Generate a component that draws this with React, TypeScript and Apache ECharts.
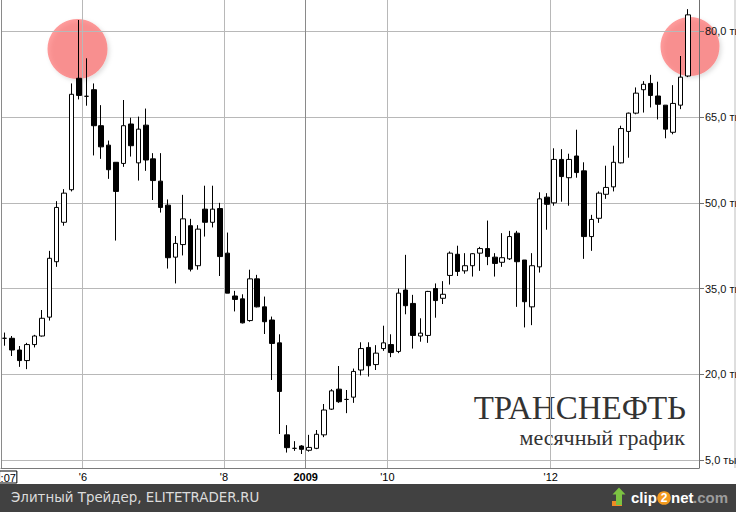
import React, { useEffect, useRef } from 'react';
import * as echarts from 'echarts';

// Monthly OHLC, values in thousands of roubles
const opens = [
  26.3, 26.3, 24.25, 22.4, 25.2, 26.7, 30.0, 39.7, 46.6, 52.3,
  71.8, 68.65, 69.8, 63.5, 60.1, 57.1, 56.9, 63.8, 57.0, 63.6,
  57.7, 53.8, 49.6, 40.5, 42.7, 46.0, 39.0, 48.9, 46.6, 49.0,
  41.2, 33.7, 33.2, 29.4, 36.7, 31.8, 29.5, 25.5, 9.4, 7.04,
  7.45, 6.7, 7.04, 9.4, 13.9, 17.4, 15.6, 16.0, 20.75, 24.7,
  21.7, 24.5, 25.2, 24.0, 34.75, 32.4, 26.7, 26.8, 35.0, 33.3,
  37.3, 41.0, 38.1, 39.0, 41.2, 42.0, 40.5, 39.6, 40.2, 44.7,
  40.0, 31.8, 38.8, 51.0, 50.0, 57.6, 54.4, 58.2, 55.6, 44.1,
  47.3, 51.5, 52.8, 57.0, 62.5, 65.7, 69.8, 70.9, 68.7, 67.1,
  62.35, 67.1, 72.2,
];
const closes = [
  26.3, 24.25, 22.4, 25.2, 26.7, 29.8, 40.3, 49.2, 51.7, 69.0,
  68.8, 68.65, 63.5, 59.8, 55.8, 52.0, 63.5, 60.0, 62.9, 57.5,
  53.9, 49.2, 40.4, 42.9, 47.2, 38.4, 45.4, 46.6, 48.9, 40.6,
  34.2, 33.1, 29.0, 36.7, 31.8, 29.2, 25.4, 17.0, 7.16, 7.04,
  6.87, 7.2, 9.5, 13.75, 17.1, 15.2, 15.6, 20.5, 24.5, 21.5,
  23.7, 25.5, 23.8, 34.2, 32.0, 26.8, 27.2, 34.5, 32.9, 34.0,
  41.2, 38.0, 39.0, 41.1, 42.0, 40.6, 39.4, 40.4, 44.1, 39.7,
  32.7, 39.0, 50.7, 49.75, 57.6, 54.6, 57.6, 55.3, 44.1, 47.1,
  51.7, 52.7, 57.1, 63.0, 65.7, 69.2, 70.75, 68.8, 67.25, 62.9,
  67.4, 72.0, 82.9,
];
const lows = [
  25.0, 23.2, 21.3, 20.9, 24.7, 26.6, 29.4, 38.8, 46.0, 52.0,
  68.1, 67.0, 58.3, 57.7, 54.2, 43.4, 56.3, 58.1, 53.9, 55.6,
  50.5, 48.3, 38.5, 35.9, 40.8, 38.0, 38.3, 44.1, 45.7, 37.2,
  34.2, 31.0, 28.9, 29.2, 31.7, 27.05, 19.0, 9.55, 6.3, 6.6,
  6.05, 6.46, 6.9, 9.0, 13.75, 15.0, 13.2, 15.0, 19.8, 19.6,
  20.75, 24.1, 23.0, 23.7, 30.5, 24.5, 25.7, 25.5, 29.9, 32.3,
  35.7, 37.2, 37.6, 37.1, 38.1, 39.1, 37.1, 38.8, 40.0, 31.8,
  28.2, 28.6, 37.8, 45.3, 49.5, 50.2, 49.5, 54.4, 40.2, 41.6,
  46.5, 50.7, 52.0, 56.9, 57.9, 65.5, 65.8, 66.7, 64.6, 61.3,
  62.0, 66.4, 72.0,
];
const highs = [
  27.3, 26.7, 24.95, 25.5, 26.9, 31.25, 41.6, 50.3, 52.4, 70.9,
  82.0, 75.3, 70.9, 67.1, 60.9, 57.1, 68.0, 64.9, 65.1, 66.5,
  58.7, 58.7, 50.6, 44.2, 51.4, 47.2, 46.1, 53.0, 53.0, 50.0,
  44.8, 34.6, 34.0, 38.3, 37.4, 33.6, 30.1, 27.0, 11.1, 8.3,
  7.6, 9.4, 10.25, 14.8, 17.4, 21.45, 17.25, 21.0, 25.6, 25.6,
  25.1, 28.5, 27.0, 35.0, 40.9, 33.9, 29.8, 34.6, 35.9, 36.3,
  41.5, 42.5, 41.2, 41.2, 42.3, 46.9, 41.2, 44.7, 45.1, 45.1,
  40.0, 41.2, 51.85, 51.7, 59.55, 59.4, 58.6, 62.8, 57.1, 47.9,
  52.0, 56.5, 60.0, 63.5, 65.8, 70.2, 71.3, 72.4, 71.2, 67.1,
  70.6, 75.7, 83.9,
];

// one category per month, plus one empty slot at the right edge
const months: string[] = [];
for (let i = 0; i < 94; i++) {
  const y = 2005 + Math.floor((6 + i) / 12);
  const m = ((6 + i) % 12) + 1;
  months.push(`${y}-${String(m).padStart(2, '0')}`);
}

const tickIndices = [0, 11, 30, 41, 52, 74];
const tickLabels = [':07', "'6", "'8", '2009', "'10", "'12"];
const priceTicks = [5, 20, 35, 50, 65, 80];

const title = 'ТРАНСНЕФТЬ';
const subtitle = 'месячный график';
const footer = 'Элитный Трейдер, ELITETRADER.RU';

export default function App() {
  const ref = useRef<HTMLDivElement>(null);
  useEffect(() => {
    document.body.style.margin = '0';
    const chart = echarts.init(ref.current!, null, { renderer: 'svg' });
    const candles = opens.map((o, i) => [o, closes[i], lows[i], highs[i]]);
    const catData = months.map((m, i) =>
      i === 0 ? { value: m, textStyle: { padding: [0, 0, 0, 7] } } : m
    );
    const option: any = {
      animation: false,
      backgroundColor: '#ffffff',
      grid: {
        left: 1,
        right: 37,
        top: 0,
        bottom: 44,
        containLabel: false,
        outerBoundsMode: 'none',
      },
      xAxis: {
        type: 'category',
        data: catData,
        boundaryGap: true,
        axisLine: { show: true, lineStyle: { color: '#7a7a7a', width: 1 } },
        axisTick: { show: false },
        axisLabel: {
          interval: (i: number) => tickIndices.includes(i),
          formatter: (_v: string, i: number) => {
            const k = tickIndices.indexOf(i);
            if (k < 0) return '';
            if (i === 0) return `{box|${tickLabels[k]}}`;
            if (tickLabels[k] === '2009') return `{b|${tickLabels[k]}}`;
            return tickLabels[k];
          },
          margin: 3,
          color: '#000',
          fontSize: 11,
          fontFamily: '"Liberation Sans", Arial, sans-serif',
          padding: [0, 7, 0, 0],
          rich: {
            box: {
              borderColor: '#000',
              borderWidth: 1,
              padding: [1, 1, 0, 1],
              fontSize: 11,
              color: '#000',
              fontFamily: '"Liberation Sans", Arial, sans-serif',
            },
            b: {
              fontWeight: 'bold',
              fontSize: 11,
              color: '#000',
              fontFamily: '"Liberation Sans", Arial, sans-serif',
            },
          },
        },
        splitLine: {
          show: true,
          interval: (i: number) => tickIndices.includes(i),
          lineStyle: {
            color: ['#8a8a8a', '#b8b8b8', '#b8b8b8', '#8a8a8a', '#b8b8b8', '#b8b8b8'],
            width: 1,
          },
        },
      },
      yAxis: {
        type: 'value',
        position: 'right',
        min: 3.6,
        max: 85.5,
        axisLine: { show: true, lineStyle: { color: '#707070', width: 1 } },
        axisTick: {
          show: true,
          length: 5,
          customValues: priceTicks,
          lineStyle: { color: '#707070' },
        },
        axisLabel: {
          customValues: priceTicks,
          formatter: (v: number) => v.toFixed(1).replace('.', ',') + ' тыс',
          margin: 6,
          color: '#111',
          fontSize: 11,
          fontFamily: '"Liberation Sans", Arial, sans-serif',
        },
        splitLine: { show: true, lineStyle: { color: '#b8b8b8', width: 1 } },
      },
      series: [
        {
          type: 'candlestick',
          data: candles,
          barWidth: 5,
          itemStyle: {
            color: '#ffffff',
            color0: '#000000',
            borderColor: '#000000',
            borderColor0: '#000000',
            borderWidth: 1,
          },
        },
      ],
      graphic: [
        {
          type: 'circle',
          z: -1,
          shape: { cx: 77.5, cy: 49, r: 30 },
          style: {
            fill: 'rgba(255,60,60,0.5)',
            shadowBlur: 4,
            shadowColor: 'rgba(0,0,0,0.25)',
            shadowOffsetX: 2,
            shadowOffsetY: 2,
          },
        },
        {
          type: 'circle',
          z: -1,
          shape: { cx: 690, cy: 46.5, r: 29.5 },
          style: {
            fill: 'rgba(255,60,60,0.5)',
            shadowBlur: 4,
            shadowColor: 'rgba(0,0,0,0.25)',
            shadowOffsetX: 2,
            shadowOffsetY: 2,
          },
        },
        {
          type: 'rect',
          z: -2,
          shape: { x: 734, y: 0, width: 2, height: 468 },
          style: { fill: '#dedede' },
        },
        {
          type: 'text',
          x: 686,
          y: 408,
          style: {
            text: title,
            fill: '#333333',
            font: '33px "Liberation Serif", serif',
            align: 'right',
            verticalAlign: 'middle',
          },
        },
        {
          type: 'text',
          x: 685,
          y: 437,
          style: {
            text: subtitle,
            fill: '#333333',
            font: '22px "Liberation Serif", serif',
            align: 'right',
            verticalAlign: 'middle',
          },
        },
        {
          type: 'rect',
          shape: { x: 0, y: 484, width: 736, height: 28 },
          style: { fill: '#414141' },
        },
        {
          type: 'text',
          x: 11,
          y: 497.5,
          style: {
            text: footer,
            fill: '#dcdcdc',
            font: '13.4px "DejaVu Sans", sans-serif',
            align: 'left',
            verticalAlign: 'middle',
          },
        },
        // clip2net logo
        {
          type: 'rect',
          shape: { x: 612, y: 501, width: 10, height: 5 },
          style: { fill: '#f08a24' },
        },
        {
          type: 'polygon',
          shape: {
            points: [
              [612.5, 494.5], [619, 487.5], [625.5, 494.5], [622, 494.5],
              [622, 505], [616, 505], [616, 494.5],
            ],
          },
          style: { fill: '#7cc242' },
        },
        {
          type: 'text',
          x: 631,
          y: 497.5,
          style: {
            text: 'clip',
            fill: '#ffffff',
            font: 'bold 15px "Liberation Sans", Arial, sans-serif',
            align: 'left',
            verticalAlign: 'middle',
          },
        },
        {
          type: 'circle',
          shape: { cx: 664, cy: 498, r: 6.8 },
          style: { fill: '#f39a1e' },
        },
        {
          type: 'text',
          x: 664,
          y: 498,
          style: {
            text: '2',
            fill: '#ffffff',
            font: 'bold 12px "Liberation Sans", Arial, sans-serif',
            align: 'center',
            verticalAlign: 'middle',
          },
        },
        {
          type: 'text',
          x: 671,
          y: 497.5,
          style: {
            text: 'net',
            fill: '#ffffff',
            font: 'bold 15px "Liberation Sans", Arial, sans-serif',
            align: 'left',
            verticalAlign: 'middle',
          },
        },
        {
          type: 'text',
          x: 693,
          y: 497.5,
          style: {
            text: '.com',
            fill: '#9c9c9c',
            font: 'bold 15px "Liberation Sans", Arial, sans-serif',
            align: 'left',
            verticalAlign: 'middle',
          },
        },
      ],
    };
    chart.setOption(option);
    return () => chart.dispose();
  }, []);
  return <div ref={ref} style={{ width: 736, height: 512 }} />;
}
